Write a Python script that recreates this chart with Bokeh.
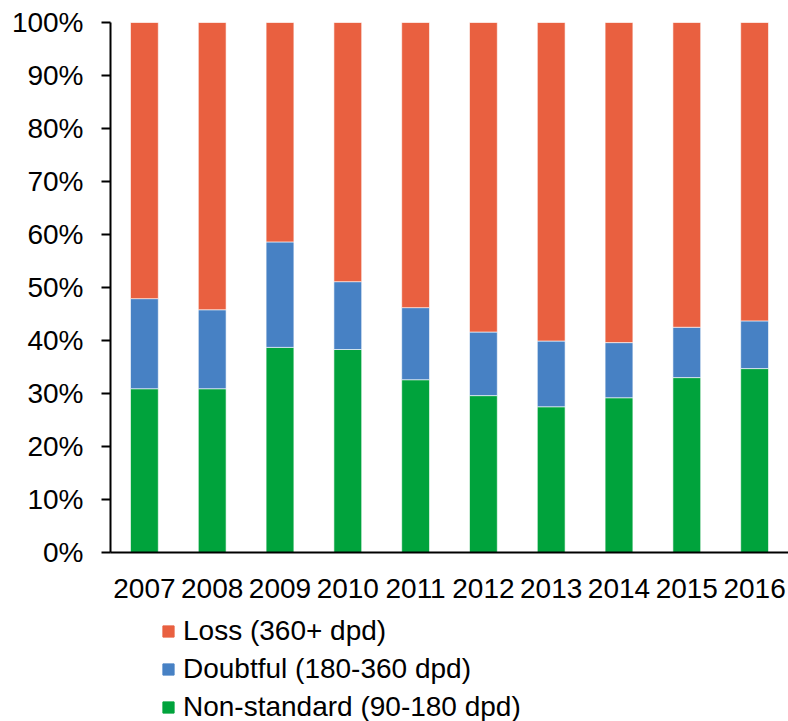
from bokeh.plotting import figure
from bokeh.layouts import column
from bokeh.models import Legend, LegendItem, FactorRange, Range1d, FixedTicker, ColumnDataSource
from bokeh.embed import file_html
from bokeh.resources import INLINE

years = ["2007", "2008", "2009", "2010", "2011", "2012", "2013", "2014", "2015", "2016"]
non_standard = [30.9, 30.9, 38.7, 38.3, 32.6, 29.6, 27.5, 29.2, 33.0, 34.7]
doubtful = [17.0, 14.9, 19.9, 12.8, 13.6, 12.0, 12.4, 10.4, 9.5, 9.0]
loss = [round(100 - a - b, 1) for a, b in zip(non_standard, doubtful)]
y_ticks = [0, 10, 20, 30, 40, 50, 60, 70, 80, 90, 100]
series_names = ["Non-standard (90-180 dpd)", "Doubtful (180-360 dpd)", "Loss (360+ dpd)"]
colors = ["#00A33C", "#4781C4", "#E96040"]

source = ColumnDataSource(dict(years=years, ns=non_standard, db=doubtful, ls=loss))

FONT = "Liberation Sans"
FS = "28px"

p = figure(x_range=FactorRange(*years, range_padding=0), y_range=Range1d(0, 100),
           width=788, height=608, output_backend="svg", toolbar_location=None,
           min_border_left=110, min_border_top=22, min_border_right=0, min_border_bottom=56)
p.outline_line_color = None
p.xgrid.grid_line_color = None
p.ygrid.grid_line_color = None
p.background_fill_color = "white"

rs = p.vbar_stack(["ns", "db", "ls"], x="years", width=0.41, source=source,
                  color=colors, line_color="white", line_alpha=0.6, line_width=1)

p.yaxis.ticker = FixedTicker(ticks=y_ticks)
p.yaxis.major_label_overrides = {t: f"{t}%" for t in y_ticks}
p.yaxis.minor_tick_line_color = None
p.yaxis.major_tick_in = 0
p.yaxis.major_tick_out = 9
p.yaxis.major_tick_line_width = 2
p.yaxis.axis_line_width = 2
p.yaxis.axis_line_color = "black"
p.yaxis.major_tick_line_color = "black"
p.yaxis.major_label_standoff = 18
p.yaxis.major_label_text_font = FONT
p.yaxis.major_label_text_font_size = FS
p.yaxis.major_label_text_color = "black"

p.xaxis.major_tick_line_color = None
p.xaxis.minor_tick_line_color = None
p.xaxis.major_tick_out = 0
p.xaxis.axis_line_width = 2
p.xaxis.axis_line_color = "black"
p.xaxis.major_label_standoff = 26
p.xaxis.major_label_text_font = FONT
p.xaxis.major_label_text_font_size = FS
p.xaxis.major_label_text_color = "black"

# Legend strip: same stacked series, drawn outside its visible range, so only the legend shows
lg = figure(x_range=FactorRange(*years, range_padding=0), y_range=Range1d(200, 300),
            width=788, height=113, output_backend="svg", toolbar_location=None,
            x_axis_location=None, y_axis_location=None,
            min_border_left=110, min_border_right=0, min_border_top=0, min_border_bottom=0)
lg.outline_line_color = None
lg.xgrid.grid_line_color = None
lg.ygrid.grid_line_color = None
sw = lg.vbar_stack(["ns", "db", "ls"], x="years", width=0.41, source=source,
                   color=colors, line_color=colors)

items = [LegendItem(label=series_names[i], renderers=[sw[i]]) for i in [2, 1, 0]]
legend = Legend(items=items, location=(51, -2), orientation="vertical",
                border_line_color=None, background_fill_alpha=0,
                label_text_font=FONT, label_text_font_size=FS, label_text_color="black",
                glyph_width=14, glyph_height=14, label_standoff=8,
                label_height=31, spacing=6, padding=0, margin=0)
lg.add_layout(legend, "center")

layout = column(p, lg, spacing=0)
open("out.html", "w").write(file_html(layout, INLINE))
